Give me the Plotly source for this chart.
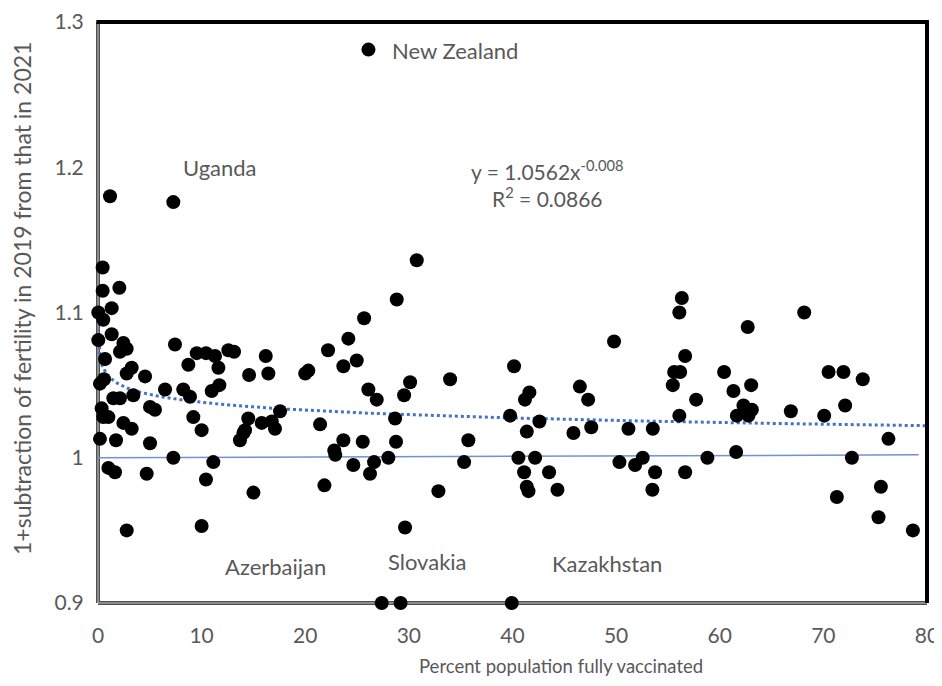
import plotly.graph_objects as go
import numpy as np

# Scatter data: percent fully vaccinated (x) vs 1+fertility change (y)
vacc_pct = [
    1.16, 7.27, 0.45, 0.45, 2.06, 0.03, 1.32, 0.51, 0.03, 1.32, 2.45, 2.77, 2.12, 0.68, 7.43,
    3.25, 2.77, 4.54, 8.72, 9.53, 10.42, 11.29, 11.62, 12.58, 13.13, 16.19, 16.44, 14.58, 20.0, 20.3,
    22.2, 0.19, 0.58, 1.48, 2.12, 3.41, 6.47, 8.23, 8.88, 10.97, 11.71, 5.02, 5.5, 0.35, 0.51,
    1.0, 2.45, 3.25, 9.2, 10.0, 14.5, 15.8, 16.77, 17.57, 17.08, 14.19, 21.43, 0.19, 1.74, 5.02,
    13.7, 14.03,
    7.27, 11.13, 1.0, 1.64, 4.7, 10.42, 15.0, 2.77, 10.0, 21.85, 22.8, 22.9, 23.68, 25.55, 24.64,
    26.25, 26.64, 28.02, 28.76, 28.67, 32.85, 29.63, 35.74, 35.33, 27.38, 29.2,
    30.76, 28.83, 25.68, 24.16, 23.68, 24.97, 26.09, 26.9, 30.12, 29.54, 33.98, 26.1,
    40.15, 39.77, 41.63, 41.2, 42.6, 41.38, 46.5, 47.3, 45.88, 47.6, 40.57, 42.18, 41.12, 41.38,
    41.54, 43.53, 44.34, 39.93,
    49.8, 51.19, 53.54, 50.32, 51.83, 52.57, 53.76, 53.5, 56.34, 56.1, 56.66, 55.6, 56.18, 55.47,
    57.72, 56.1, 56.66, 58.81,
    60.42, 61.32, 63.03, 62.29, 63.1, 61.65, 62.77, 62.7, 61.58, 66.86, 68.15, 70.5, 71.94, 73.8,
    70.08, 72.1, 72.75, 71.3, 75.55, 75.32, 78.64, 76.28,
]
fertility_ratio = [
    1.180, 1.176, 1.131, 1.115, 1.117, 1.100, 1.103, 1.095, 1.081, 1.085, 1.079, 1.075, 1.073, 1.068, 1.078,
    1.062, 1.058, 1.056, 1.064, 1.072, 1.072, 1.070, 1.062, 1.074, 1.073, 1.070, 1.058, 1.057, 1.058, 1.060,
    1.074, 1.051, 1.054, 1.041, 1.041, 1.043, 1.047, 1.047, 1.042, 1.046, 1.050, 1.035, 1.033, 1.034, 1.028,
    1.028, 1.024, 1.020, 1.028, 1.019, 1.027, 1.024, 1.025, 1.032, 1.020, 1.019, 1.023, 1.013, 1.012, 1.010,
    1.012, 1.017,
    1.000, 0.997, 0.993, 0.990, 0.989, 0.985, 0.976, 0.950, 0.953, 0.981, 1.005, 1.002, 1.012, 1.011, 0.995,
    0.989, 0.997, 1.000, 1.011, 1.027, 0.977, 0.952, 1.012, 0.997, 0.900, 0.900,
    1.136, 1.109, 1.096, 1.082, 1.063, 1.067, 1.047, 1.040, 1.052, 1.043, 1.054, 1.281,
    1.063, 1.029, 1.045, 1.040, 1.025, 1.018, 1.049, 1.040, 1.017, 1.021, 1.000, 1.000, 0.990, 0.980,
    0.977, 0.990, 0.978, 0.900,
    1.080, 1.020, 1.020, 0.997, 0.995, 1.000, 0.990, 0.978, 1.110, 1.100, 1.070, 1.059, 1.059, 1.050,
    1.040, 1.029, 0.990, 1.000,
    1.059, 1.046, 1.050, 1.036, 1.033, 1.029, 1.029, 1.090, 1.004, 1.032, 1.100, 1.059, 1.059, 1.054,
    1.029, 1.036, 1.000, 0.973, 0.980, 0.959, 0.950, 1.013,
]

# Power trendline coefficients (as shown on chart, y = a*x^b)
TREND_A = 1.0562
TREND_B = -0.0075
trend_x = list(np.linspace(0.01, 80, 400))
trend_y = [TREND_A * xv ** TREND_B for xv in trend_x]

# Reference line near y = 1
ref_x = [-0.3, 79.2]
ref_y = [1.0, 1.002]

# Labels
country_labels = ["New Zealand", "Uganda", "Azerbaijan", "Slovakia", "Kazakhstan"]
label_x = [28.2, 11.8, 17.1, 31.8, 49.1]
label_y = [1.2807, 1.2, 0.9248, 0.9289, 0.9269]
label_anchor = ["left", "center", "center", "center", "center"]

x_ticks = [0, 10, 20, 30, 40, 50, 60, 70, 80]
y_ticks = [0.9, 1.0, 1.1, 1.2, 1.3]
y_tick_text = ["0.9", "1", "1.1", "1.2", "1.3"]

x_title = "Percent population fully vaccinated"
y_title = "1+subtraction of fertility in 2019 from that in 2021"

FONT = "Lato"
GRAY = "#595959"

# page body has an 8px margin: figure is sized/positioned to compensate
W, H = 934, 670
L, R, T, B = 90, 15, 14, 75
PW, PH = W - L - R, H - T - B

fig = go.Figure()
fig.add_trace(go.Scatter(x=ref_x, y=ref_y, mode="lines",
                         line=dict(color="#6F93D6", width=1.5), hoverinfo="skip"))
fig.add_trace(go.Scatter(x=trend_x, y=trend_y, mode="lines",
                         line=dict(color="#4472C4", width=3, dash="dot"), hoverinfo="skip"))
fig.add_trace(go.Scatter(x=vacc_pct, y=fertility_ratio, mode="markers",
                         marker=dict(color="black", size=14, line=dict(width=0)),
                         cliponaxis=False))

for t, xv, yv, an in zip(country_labels, label_x, label_y, label_anchor):
    fig.add_annotation(x=xv, y=yv, text=t, showarrow=False, xanchor=an, yanchor="middle",
                       font=dict(family=FONT, size=22, color=GRAY))

fig.add_annotation(x=43.4, y=1.189, text="y = 1.0562x<sup>-0.008</sup><br>R<sup>2</sup> = 0.0866",
                   showarrow=False, xanchor="center", yanchor="middle", align="center",
                   font=dict(family=FONT, size=21, color=GRAY))

# Axis titles as annotations for exact placement
fig.add_annotation(xref="paper", yref="paper", x=(553 - L) / PW, y=-(658 - (T + PH)) / PH,
                   text=x_title, showarrow=False, xanchor="center", yanchor="middle",
                   font=dict(family=FONT, size=18.5, color=GRAY))
fig.add_annotation(xref="paper", yref="paper", x=-(L - 14) / PW, y=((T + PH) - 291) / PH,
                   text=y_title, showarrow=False, xanchor="center", yanchor="middle",
                   textangle=-90, font=dict(family=FONT, size=23, color=GRAY))

# Frame: black top/right, gray double line left/bottom
fig.add_shape(type="line", xref="paper", yref="paper", x0=-0.002, x1=1.002, y0=1, y1=1,
              line=dict(color="black", width=4))
fig.add_shape(type="line", xref="paper", yref="paper", x0=1, x1=1, y0=0, y1=1.003,
              line=dict(color="black", width=4))
fig.add_shape(type="line", xref="paper", yref="paper", x0=0, x1=0, y0=0, y1=1,
              line=dict(color="#505050", width=4), layer="below")
fig.add_shape(type="line", xref="paper", yref="paper", x0=0, x1=1, y0=0, y1=0,
              line=dict(color="#505050", width=4), layer="below")
fig.add_shape(type="line", xref="paper", yref="paper", x0=0, x1=0, y0=0, y1=1,
              line=dict(color="#C8C8C8", width=1), layer="below")
fig.add_shape(type="line", xref="paper", yref="paper", x0=0, x1=1, y0=0, y1=0,
              line=dict(color="#C8C8C8", width=1), layer="below")

fig.update_layout(
    width=W, height=H,
    margin=dict(l=L, r=R, t=T, b=B),
    paper_bgcolor="white", plot_bgcolor="white",
    showlegend=False,
    font=dict(family=FONT, color=GRAY, size=16),
    xaxis=dict(range=[0, 80], tickvals=x_ticks, showgrid=False, zeroline=False,
               showline=False, ticks="outside", ticklen=14, tickcolor="rgba(0,0,0,0)",
               automargin=False, tickfont=dict(size=21, color=GRAY, family=FONT)),
    yaxis=dict(range=[0.9, 1.3], tickvals=y_ticks, ticktext=y_tick_text, showgrid=False,
               zeroline=False, showline=False, ticks="outside", ticklen=9,
               tickcolor="rgba(0,0,0,0)", automargin=False,
               tickfont=dict(size=21, color=GRAY, family=FONT)),
)

fig.write_html("out.html")
